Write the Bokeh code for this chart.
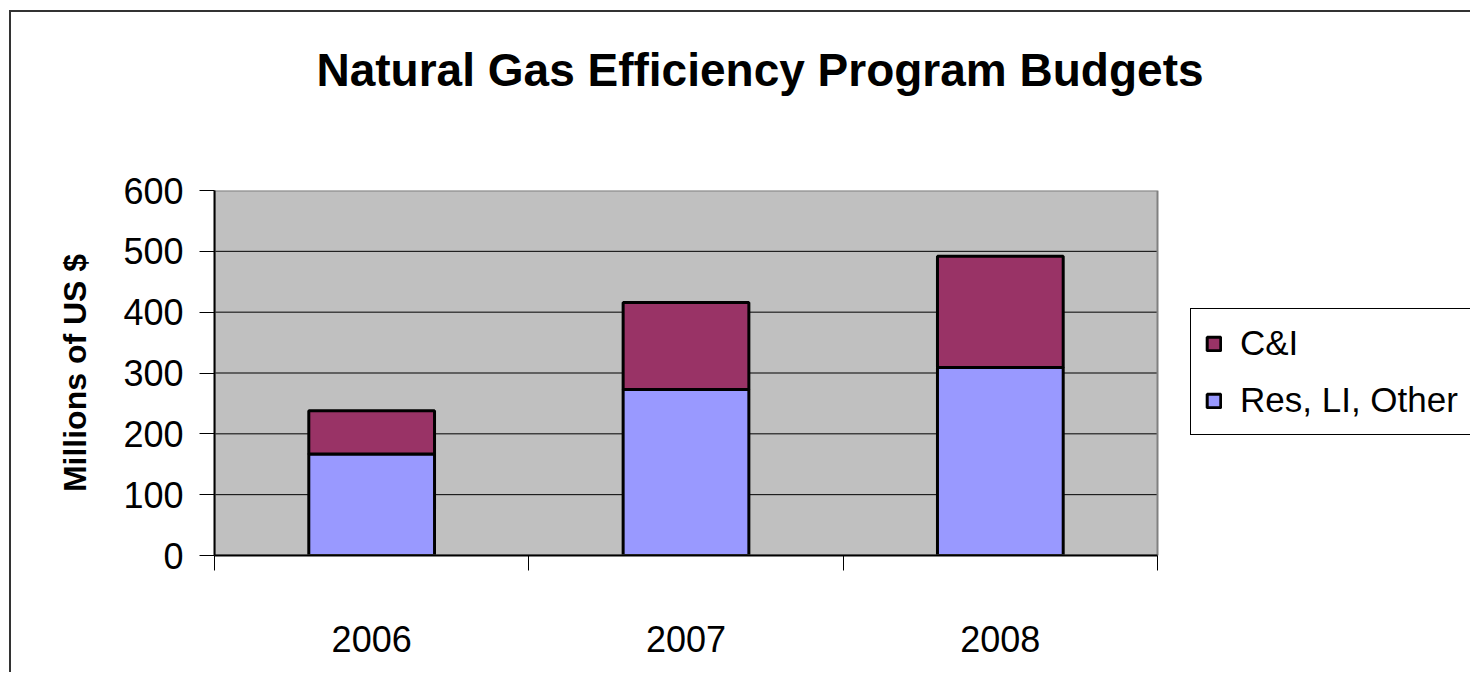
from bokeh.plotting import figure
from bokeh.models import (ColumnDataSource, FixedTicker, Legend, LegendItem,
                          Range1d, Title)
from bokeh.embed import file_html
from bokeh.resources import INLINE

# ---- data ----
years = ["2006", "2007", "2008"]
res_li_other = [167, 273, 309]
c_and_i = [71, 143, 183]
y_ticks = [0, 100, 200, 300, 400, 500, 600]
series_names = ["Res, LI, Other", "C&I"]
colors = ["#9999FF", "#993366"]
chart_title = "Natural Gas Efficiency Program Budgets"

n = len(years)
centers = [i + 0.5 for i in range(n)]
bounds = [float(i) for i in range(n + 1)]
source = ColumnDataSource(dict(x=centers, res=res_li_other, ci=c_and_i))
grid_vals = y_ticks[1:-1]

FONT = "Liberation Sans"

# layout (pixels): plot area 943 wide, frame extended to the right for the legend
AREA_W = 943
FRAME_W = 1256
x_max = n * FRAME_W / AREA_W

p = figure(frame_width=FRAME_W, frame_height=365, output_backend="svg",
           toolbar_location=None,
           x_range=Range1d(0, x_max), y_range=Range1d(y_ticks[0], y_ticks[-1]),
           min_border_left=203, min_border_top=178, min_border_bottom=117,
           min_border_right=0)
p.styles = {"border-left": "2px solid #333333", "border-top": "2px solid #333333",
            "margin-left": "9px", "margin-top": "10px"}

p.background_fill_color = "white"
p.border_fill_color = "white"
p.outline_line_color = None

# title + spacer between title and plot area
p.title.text = chart_title
p.title.text_font = FONT
p.title.text_font_size = "46px"
p.title.text_font_style = "bold"
p.title.text_color = "black"
p.title.align = "left"
p.title.offset = 102
p.title.standoff = 0
p.add_layout(Title(text=" ", text_font_size="10px", standoff=82), "above")

# plot area background
p.quad(left=[bounds[0]], right=[bounds[-1]], bottom=[y_ticks[0]], top=[y_ticks[-1]],
       fill_color="#C0C0C0", line_color=None, level="image")

# horizontal gridlines limited to the plot area
p.segment(x0=[bounds[0]] * len(grid_vals), x1=[bounds[-1]] * len(grid_vals),
          y0=grid_vals, y1=grid_vals, line_color="black", line_width=1)

renderers = p.vbar_stack(["res", "ci"], x="x", width=0.4, source=source,
                         fill_color=colors, line_color="black", line_width=3)

# plot area outline
p.quad(left=[bounds[0]], right=[bounds[-1]], bottom=[y_ticks[0]], top=[y_ticks[-1]],
       fill_color=None, line_color="#808080", line_width=2)

# x axis
xa = p.xaxis[0]
xa.bounds = (bounds[0], bounds[-1])
xa.ticker = FixedTicker(ticks=centers, minor_ticks=bounds)
xa.major_label_overrides = {c: y for c, y in zip(centers, years)}
xa.major_tick_out = 0
xa.major_tick_in = 0
xa.minor_tick_out = 15
xa.minor_tick_in = 0
xa.minor_tick_line_color = "black"
xa.axis_line_color = "black"
xa.axis_line_width = 2
xa.major_label_text_font = FONT
xa.major_label_text_font_size = "36px"
xa.major_label_text_color = "black"
xa.major_label_standoff = 55

# y axis
ya = p.yaxis[0]
ya.ticker = FixedTicker(ticks=y_ticks)
ya.major_tick_out = 15
ya.major_tick_in = 0
ya.minor_tick_out = 0
ya.minor_tick_in = 0
ya.axis_line_color = "black"
ya.axis_line_width = 2
ya.major_tick_line_color = "black"
ya.major_label_text_font = FONT
ya.major_label_text_font_size = "36px"
ya.major_label_text_color = "black"
ya.major_label_standoff = 16
ya.axis_label = "Millions of US $"
ya.axis_label_text_font = FONT
ya.axis_label_text_font_size = "32px"
ya.axis_label_text_font_style = "bold"
ya.axis_label_text_color = "black"
ya.axis_label_standoff = 27

p.xgrid.visible = False
p.ygrid.visible = False

legend = Legend(items=[LegendItem(label=series_names[1], renderers=[renderers[1]]),
                       LegendItem(label=series_names[0], renderers=[renderers[0]])],
                location=(976, 120))
legend.label_text_font = FONT
legend.label_text_font_size = "35px"
legend.label_text_color = "black"
legend.label_height = 35
legend.glyph_height = 17
legend.glyph_width = 17
legend.spacing = 17
legend.padding = 14
legend.margin = 0
legend.label_standoff = 18
legend.border_line_color = "black"
legend.border_line_alpha = 1
legend.border_line_width = 1
legend.background_fill_color = "white"
legend.background_fill_alpha = 1
p.add_layout(legend)

open("out.html", "w").write(file_html(p, INLINE))
